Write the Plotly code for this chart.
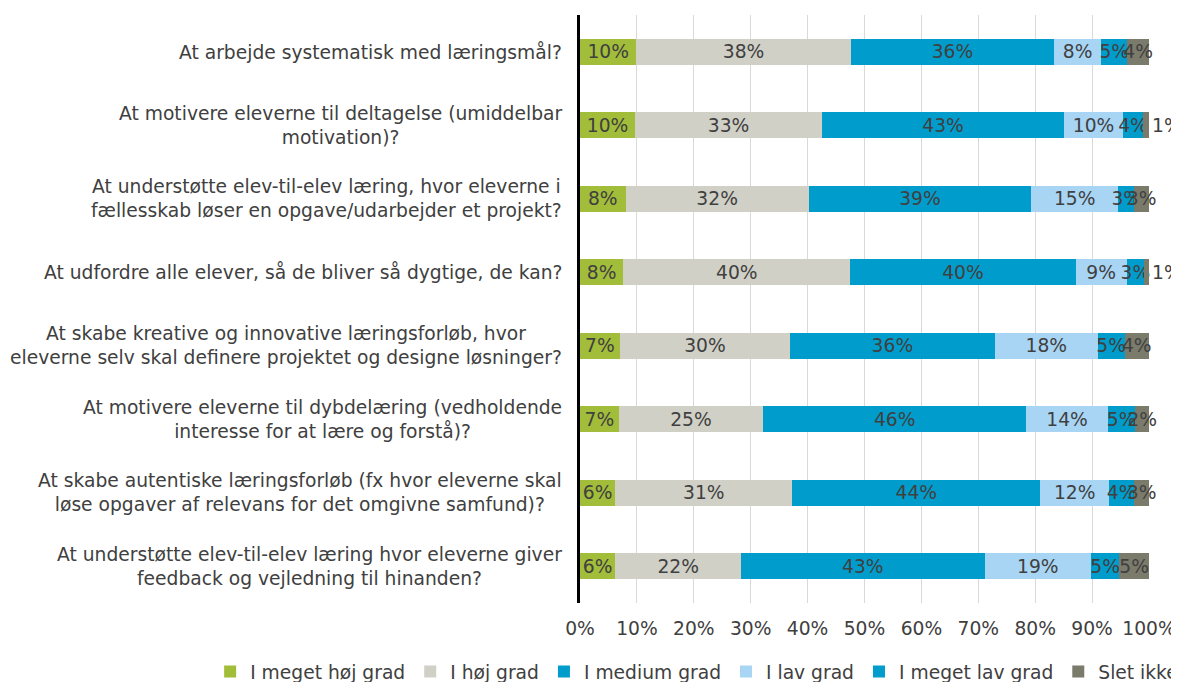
import plotly.graph_objects as go

categories = [
    "At arbejde systematisk med læringsmål?",
    "At motivere eleverne til deltagelse (umiddelbar<br>motivation)?",
    "At understøtte elev-til-elev læring, hvor eleverne i<br>fællesskab løser en opgave/udarbejder et projekt?",
    "At udfordre alle elever, så de bliver så dygtige, de kan?",
    "At skabe kreative og innovative læringsforløb, hvor<br>eleverne selv skal definere projektet og designe løsninger?",
    "At motivere eleverne til dybdelæring (vedholdende<br>interesse for at lære og forstå)?",
    "At skabe autentiske læringsforløb (fx hvor eleverne skal<br>løse opgaver af relevans for det omgivne samfund)?",
    "At understøtte elev-til-elev læring hvor eleverne giver<br>feedback og vejledning til hinanden?",
]

series_names = ["I meget høj grad", "I høj grad", "I medium grad", "I lav grad", "I meget lav grad", "Slet ikke"]

meget_hoj = [9.9, 9.7, 8.0, 7.6, 7.0, 6.8, 6.2, 6.2]
hoj = [37.7, 32.8, 32.2, 39.9, 29.9, 25.4, 31.1, 22.1]
medium = [35.7, 42.6, 39.1, 39.6, 36.0, 46.2, 43.6, 42.8]
lav = [8.3, 10.3, 15.3, 9.0, 18.1, 14.4, 12.1, 18.7]
meget_lav = [4.6, 3.6, 2.8, 3.0, 4.7, 4.8, 4.4, 5.0]
slet_ikke = [3.8, 1.0, 2.6, 0.9, 4.3, 2.4, 2.6, 5.2]

tick_vals = [0, 10, 20, 30, 40, 50, 60, 70, 80, 90, 100]
tick_text = ["0%", "10%", "20%", "30%", "40%", "50%", "60%", "70%", "80%", "90%", "100%"]

colors = ["#a2bd3a", "#d0d0c7", "#009dcc", "#a9d5f5", "#009dcc", "#7b7b6b"]

# label placement for the last (tiny) segments: the 1% labels sit just past the bar end
last_label_pos = ["inside", "outside", "inside", "outside", "inside", "inside", "inside", "inside"]

FONT = "DejaVu Sans"
TXT = "#404040"
FS = 18.7

fig = go.Figure()
all_series = [meget_hoj, hoj, medium, lav, meget_lav, slet_ikke]
for i, (name, vals, col) in enumerate(zip(series_names, all_series, colors)):
    pos = last_label_pos if i == len(all_series) - 1 else "inside"
    fig.add_trace(go.Bar(
        name=name, x=vals, y=categories, orientation="h",
        marker=dict(color=col, line=dict(width=0)),
        texttemplate="%{x:.0f}%", textposition=pos, insidetextanchor="middle",
        textangle=0,
        textfont=dict(family=FONT, size=FS, color=TXT),
        outsidetextfont=dict(family=FONT, size=FS, color=TXT),
        constraintext="none", cliponaxis=False,
    ))

for c in categories:
    fig.add_annotation(x=0, xref="paper", y=c, yref="y", text=c, showarrow=False,
                       xanchor="right", xshift=-16, align="center",
                       font=dict(family=FONT, size=FS, color=TXT))

fig.update_layout(
    barmode="stack", bargap=0.65,
    width=1171, height=674,
    margin=dict(l=572, r=30, t=7, b=79, autoexpand=False),
    paper_bgcolor="white", plot_bgcolor="white",
    uniformtext=dict(minsize=FS, mode="show"),
    font=dict(family=FONT, color=TXT),
    legend=dict(orientation="h", x=-0.650, xanchor="left", y=-0.117, yanchor="middle",
                traceorder="normal", font=dict(family=FONT, size=FS, color=TXT),
                itemwidth=30, tracegroupgap=0),
    xaxis=dict(range=[0, 100.001], tickvals=tick_vals, ticktext=tick_text,
               showgrid=True, gridcolor="#d9d9d9", gridwidth=1, zeroline=False,
               tickfont=dict(family=FONT, size=FS, color=TXT), ticks="", showline=False,
               ticklabelstandoff=12),
    yaxis=dict(categoryorder="array", categoryarray=categories, autorange="reversed",
               showticklabels=False, showline=True, linecolor="black", linewidth=3,
               showgrid=False, ticks=""),
)

fig.write_html("out.html")
